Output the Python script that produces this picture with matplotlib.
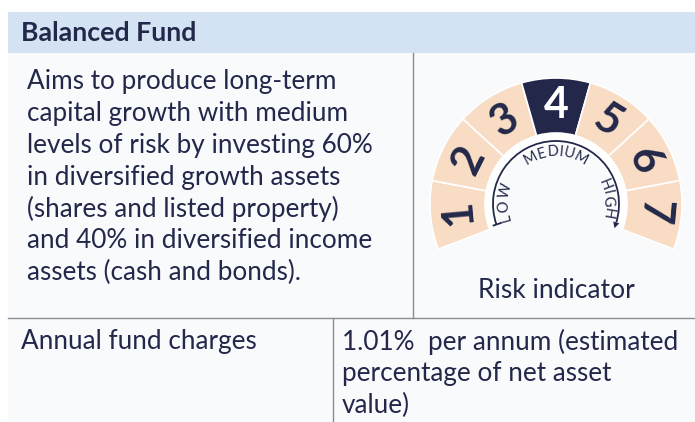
import matplotlib.pyplot as plt
import numpy as np
from matplotlib.patches import Wedge, Arc, Rectangle, Polygon
from matplotlib.textpath import TextPath
from matplotlib.font_manager import FontProperties

# ---- content -------------------------------------------------------------
title = "Balanced Fund"
description = [
    "Aims to produce long-term",
    "capital growth with medium",
    "levels of risk by investing 60%",
    "in diversified growth assets",
    "(shares and listed property)",
    "and 40% in diversified income",
    "assets (cash and bonds).",
]
risk_levels = [1, 2, 3, 4, 5, 6, 7]
fund_risk = 4
scale_labels = ["LOW", "MEDIUM", "HIGH"]
scale_angles = [178, 90, 6]          # where each word sits on the inner arc
gauge_caption = "Risk indicator"
charge_label = "Annual fund charges"
charge_text = ["1.01%  per annum (estimated", "percentage of net asset", "value)"]

# ---- colours -------------------------------------------------------------
navy = "#23284a"
peach = "#f8dcc4"
header_bg = "#d3e3f3"
card_bg = "#f8fafc"
rule = "#8a8d93"

W, H = 695, 422
plt.rcParams['font.family'] = ['Lato', 'DejaVu Sans']
body_size = 18.8

fig = plt.figure(figsize=(W / 100, H / 100), dpi=100)
ax = fig.add_axes([0, 0, 1, 1])
ax.set_xlim(0, W)
ax.set_ylim(0, H)
ax.set_aspect('equal')
ax.axis('off')


def Y(y):
    # picture rows count from the top
    return H - y


# card + header
ax.add_patch(Rectangle((8, 0), W - 8, Y(53), facecolor=card_bg, edgecolor='none'))
ax.add_patch(Rectangle((8, Y(53)), W - 8, 41, facecolor=header_bg, edgecolor='none'))
ax.text(21, Y(33), title, fontsize=19.3, fontweight='bold', color=navy, va='center')

# grid lines of the table
ax.plot([413, 413], [Y(53), Y(318)], color=rule, lw=1)
ax.plot([8, W], [Y(318), Y(318)], color=rule, lw=1)
ax.plot([333, 333], [Y(318), 0], color=rule, lw=1)

# description text
for i, line in enumerate(description):
    ax.text(27, Y(82 + i * 31.7), line, fontsize=body_size, color=navy, va='center')

# ---- gauge ---------------------------------------------------------------
cx, cy = 556, Y(204)
r_out, r_in = 126, 71
start, end = 201, -21
step = (start - end) / len(risk_levels)

ax.add_patch(Wedge((cx, cy), r_in, end, start, width=r_in - 60,
                   facecolor='white', edgecolor='none'))
for i, lvl in enumerate(risk_levels):
    t1 = start - (i + 1) * step
    t2 = start - i * step
    active = lvl == fund_risk
    ax.add_patch(Wedge((cx, cy), r_out, t1, t2, width=r_out - r_in,
                       facecolor=navy if active else peach,
                       edgecolor='white', lw=1.2))
    mid = np.radians((t1 + t2) / 2)
    rr = (r_out + r_in) / 2
    ax.text(cx + rr * np.cos(mid), cy + rr * np.sin(mid), str(lvl),
            fontsize=31, fontweight='bold', color='white' if active else navy,
            rotation=np.degrees(mid) - 90, ha='center', va='center',
            rotation_mode='anchor')

# inner arc with arrow
r_arc = 63
a0, a1 = 199, -17
ax.add_patch(Arc((cx, cy), 2 * r_arc, 2 * r_arc, theta1=a1, theta2=a0, color=navy, lw=1.3))
t = np.radians(a0)
ax.plot([cx + (r_arc - 4) * np.cos(t), cx + (r_arc + 3) * np.cos(t)],
        [cy + (r_arc - 4) * np.sin(t), cy + (r_arc + 3) * np.sin(t)], color=navy, lw=1.3)
t = np.radians(a1)
tip = np.array([cx + r_arc * np.cos(t), cy + r_arc * np.sin(t)])
tang = np.array([np.sin(t), -np.cos(t)])
norm = np.array([np.cos(t), np.sin(t)])
ax.add_patch(Polygon([tip + 6 * tang, tip + 3.2 * norm, tip - 3.2 * norm],
                     closed=True, facecolor=navy, edgecolor='none'))

# curved words, letters spaced by their own widths
r_txt = 52
arc_fs = 10.5
tracking = 3.2   # extra px between letters
fp = FontProperties(family='Lato')
px = arc_fs * 100 / 72
for word, ang in zip(scale_labels, scale_angles):
    widths = [TextPath((0, 0), ch, size=px, prop=fp).get_extents().width + tracking
              for ch in word]
    total = sum(widths)
    pos = -total / 2
    for ch, w in zip(word, widths):
        offset = pos + w / 2
        pos += w
        a = np.radians(ang) - offset / r_txt
        ax.text(cx + r_txt * np.cos(a), cy + r_txt * np.sin(a), ch,
                fontsize=arc_fs, color=navy, rotation=np.degrees(a) - 90,
                ha='center', va='center', rotation_mode='anchor')

ax.text(cx, Y(290), gauge_caption, fontsize=19, color=navy, ha='center', va='center')

# ---- bottom row ----------------------------------------------------------
ax.text(21, Y(342), charge_label, fontsize=body_size, color=navy, va='center')
for i, line in enumerate(charge_text):
    ax.text(342, Y(342 + i * 31.7), line, fontsize=body_size, color=navy, va='center')

fig.savefig("out.png", dpi=100)
